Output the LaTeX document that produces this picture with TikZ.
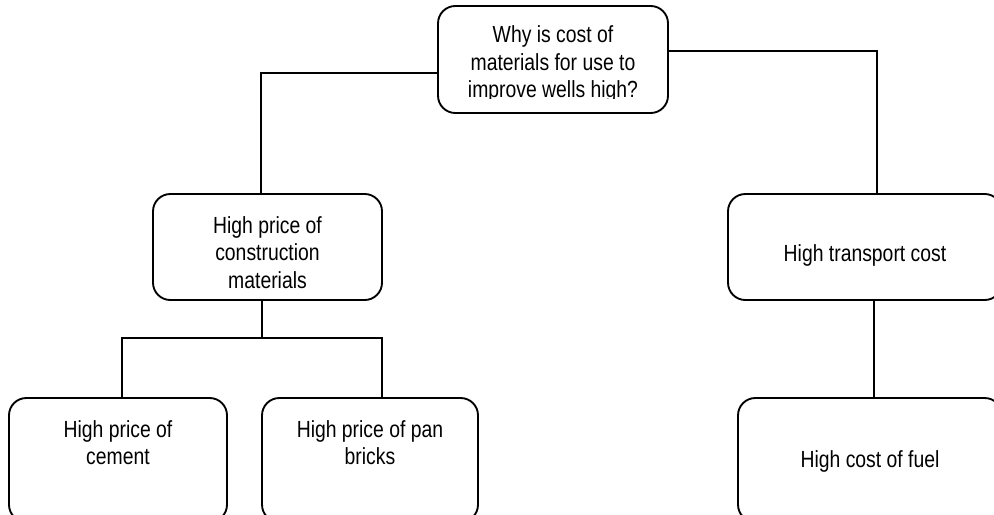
\documentclass[tikz,border=0pt]{standalone}
\usepackage{fontspec}
\setmainfont{Liberation Sans}[FakeStretch=0.83]
\usetikzlibrary{fit}
\begin{document}
\begin{tikzpicture}[x=0.75pt,y=-0.75pt,
  box/.style={draw, line width=1.4pt, rounded corners=13pt, inner sep=0pt},
  boxtext/.style={anchor=north, inner sep=0pt, align=center,
    font=\fontsize{17.5pt}{20.6pt}\selectfont},
  link/.style={line width=1.4pt}]
\useasboundingbox (0,0) rectangle (994,514);
\clip (0,0) rectangle (994,514);
\fill[white] (0,0) rectangle (994,514);

% boxes
\node[box, fit={(438,6) (668,113)}] (top) {};
\node[box, fit={(153,194) (382,300)}] (lm) {};
\node[box, fit={(728,194) (1002,300)}] (rm) {};
\node[box, fit={(9,398) (227,522)}] (bl) {};
\node[box, fit={(262,398) (478,522)}] (bm) {};
\node[box, fit={(738,398) (1002,522)}] (br) {};

% texts (the question text box cuts its last line at the baseline)
\begin{scope}
  \clip (438,6) rectangle (668,98.5);
  \node[boxtext] (toptext) at (553,25.5) {Why is cost of\\materials for use to\\improve wells high?};
\end{scope}
\node[boxtext] (lmtext) at (267.5,216) {High price of\\construction\\materials};
\node[boxtext] (rmtext) at (865,244) {High transport cost};
\node[boxtext] (bltext) at (118,420) {High price of\\cement};
\node[boxtext] (bmtext) at (370,420) {High price of pan\\bricks};
\node[boxtext] (brtext) at (870,450) {High cost of fuel};

% connectors
\coordinate (jl) at (261,73);
\coordinate (jr) at (877,51);
\coordinate (jm) at (262,338);
\coordinate (jbl) at (122,338);
\coordinate (jbm) at (382,338);
\coordinate (jt) at (874,350);
\draw[link] (top.west |- jl) -- (jl) -- (jl |- lm.north);
\draw[link] (top.east |- jr) -- (jr) -- (jr |- rm.north);
\draw[link] (jm |- lm.south) -- (jm);
\draw[link] (jbl |- bl.north) -- (jbl) -- (jbm) -- (jbm |- bm.north);
\draw[link] (jt |- rm.south) -- (jt |- br.north);
\end{tikzpicture}
\end{document}
